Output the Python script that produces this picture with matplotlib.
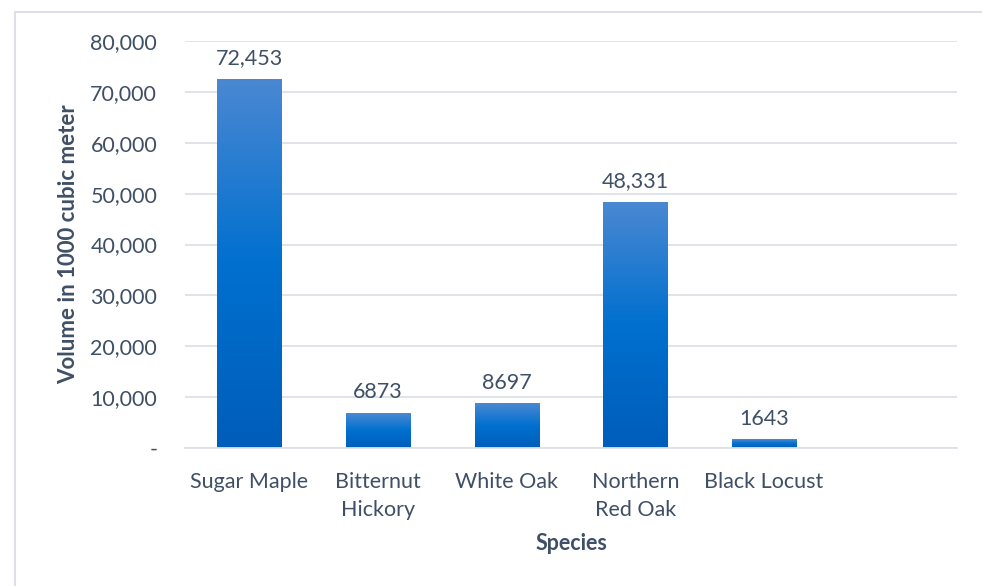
import matplotlib.pyplot as plt
import numpy as np
from matplotlib.colors import LinearSegmentedColormap
from matplotlib.patches import Rectangle


# Data
species = ["Sugar Maple", "Bitternut\nHickory", "White Oak", "Northern\nRed Oak", "Black Locust", ""]
volume = [72453, 6873, 8697, 48331, 1643, 0]
value_labels = ["72,453", "6873", "8697", "48,331", "1643", ""]
yticks = [0, 10000, 20000, 30000, 40000, 50000, 60000, 70000, 80000]
ytick_labels = ["-", "10,000", "20,000", "30,000", "40,000", "50,000", "60,000", "70,000", "80,000"]

text_color = "#3F4F65"
grid_color = "#DDE1E6"
fs = 15.5
plt.rcParams["font.family"] = ["Lato", "DejaVu Sans"]

# light at top, deep blue in the middle, a bit darker at the base
bar_cmap = LinearSegmentedColormap.from_list(
    "bar_grad", [(0.0, "#005DBA"), (0.5, "#0070CF"), (1.0, "#4A88D2")]
)

fig = plt.figure(figsize=(9.82, 5.86), dpi=100)
ax = fig.add_axes([185 / 982, 1 - 448 / 586, (957 - 185) / 982, (448 - 41) / 586])

# chart border (cut off at the right and bottom like the screenshot)
fig.patches.append(Rectangle((15 / 982, -0.1), 1.2, 1 - 12 / 586 + 0.1,
                             transform=fig.transFigure, fill=False,
                             edgecolor="#DDE1E6", linewidth=1.5))

x = np.arange(len(species))
bars = ax.bar(x, volume, width=0.5, color="none", zorder=2)

grad = np.linspace(0, 1, 256).reshape(-1, 1)
for bar, lab in zip(bars, value_labels):
    h = bar.get_height()
    if h <= 0:
        continue
    ax.imshow(grad, extent=[bar.get_x(), bar.get_x() + bar.get_width(), 0, h],
              origin="lower", aspect="auto", cmap=bar_cmap, zorder=2)
    ax.annotate(lab, (bar.get_x() + bar.get_width() / 2, h), xytext=(0, 8),
                textcoords="offset points", ha="center", va="bottom",
                fontsize=fs, color=text_color)

ax.set_xlim(-0.5, len(species) - 0.5)
ax.set_ylim(0, 80000)
ax.set_yticks(yticks)
ax.set_yticklabels(ytick_labels)
ax.set_xticks(x)
ax.set_xticklabels(species, linespacing=1.5)

ax.grid(axis="y", color=grid_color, linewidth=1.3, zorder=0)
ax.set_axisbelow(True)
for side in ["top", "right", "left"]:
    ax.spines[side].set_visible(False)
ax.spines["bottom"].set_color(grid_color)
ax.spines["bottom"].set_linewidth(1.3)

ax.tick_params(axis="both", length=0, labelsize=fs, labelcolor=text_color)
ax.tick_params(axis="y", pad=20)
ax.tick_params(axis="x", pad=17)

ax.set_ylabel("Volume in 1000 cubic meter", fontsize=16, fontweight="bold",
              color=text_color, labelpad=8)
ax.set_xlabel("Species", fontsize=15.5, fontweight="bold", color=text_color, labelpad=10)

fig.savefig("out.png", dpi=100, facecolor="white")
